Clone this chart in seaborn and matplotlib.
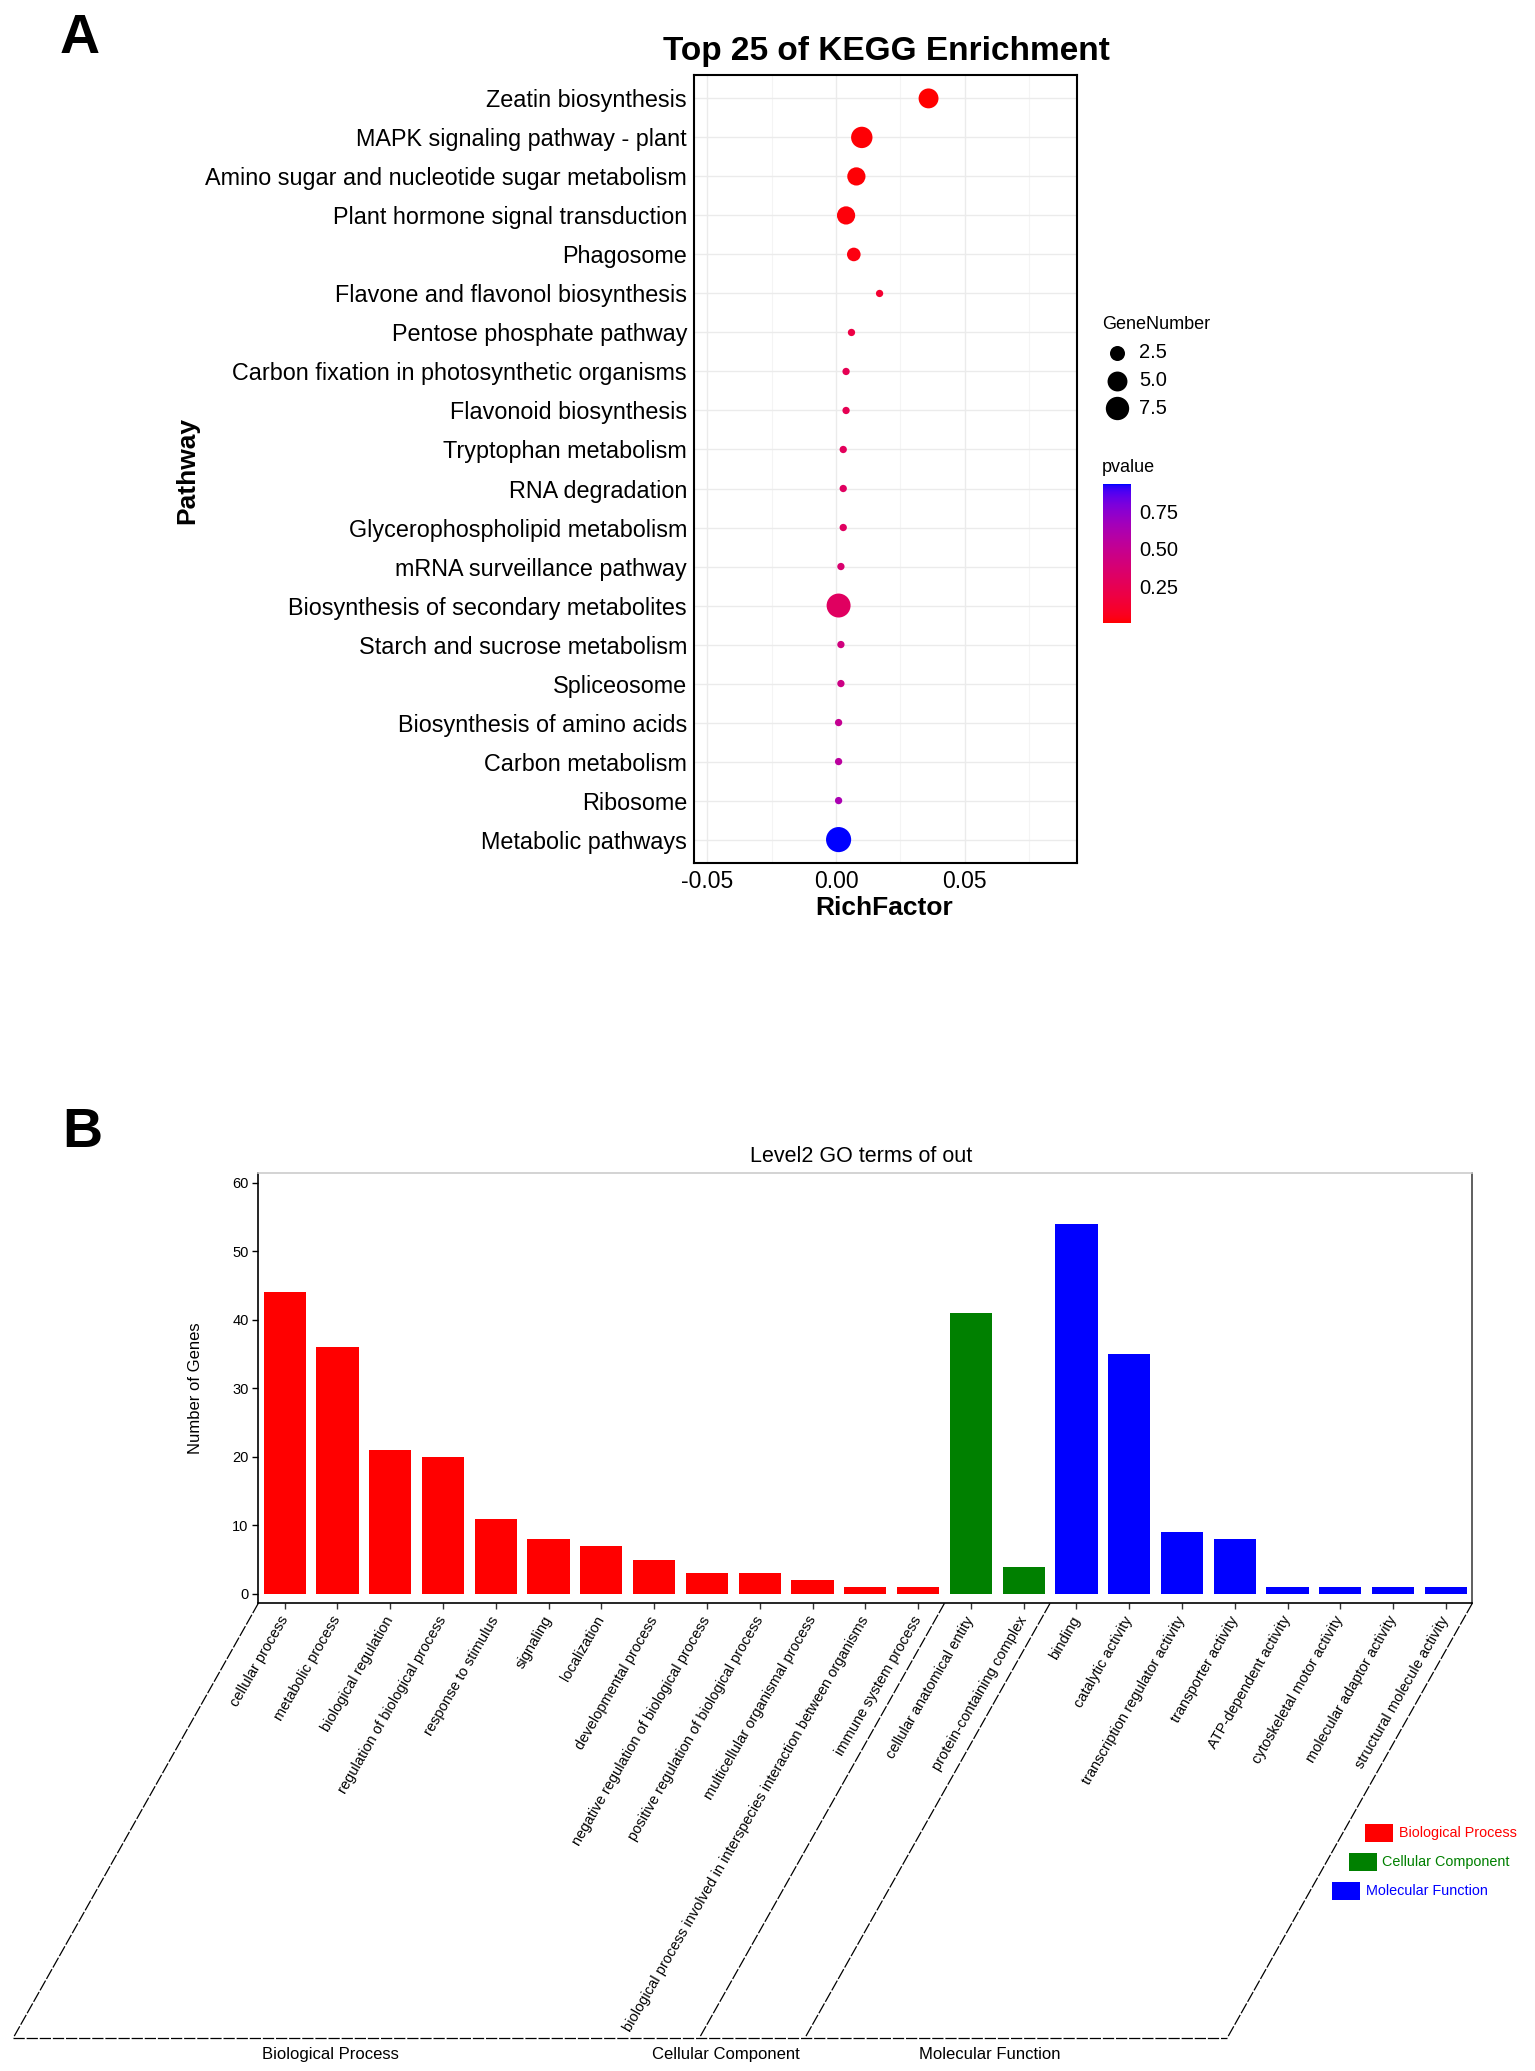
import numpy as np
import pandas as pd
import matplotlib
matplotlib.use("Agg")
import matplotlib.pyplot as plt
import seaborn as sns
from matplotlib import cm
from matplotlib.colors import ListedColormap, Normalize
from matplotlib.lines import Line2D
from matplotlib.patches import Rectangle
from matplotlib.transforms import IdentityTransform

# ---- panel A data (KEGG enrichment) ----
pathways = [
    "Zeatin biosynthesis",
    "MAPK signaling pathway - plant",
    "Amino sugar and nucleotide sugar metabolism",
    "Plant hormone signal transduction",
    "Phagosome",
    "Flavone and flavonol biosynthesis",
    "Pentose phosphate pathway",
    "Carbon fixation in photosynthetic organisms",
    "Flavonoid biosynthesis",
    "Tryptophan metabolism",
    "RNA degradation",
    "Glycerophospholipid metabolism",
    "mRNA surveillance pathway",
    "Biosynthesis of secondary metabolites",
    "Starch and sucrose metabolism",
    "Spliceosome",
    "Biosynthesis of amino acids",
    "Carbon metabolism",
    "Ribosome",
    "Metabolic pathways",
]
rich_factor = [0.0359, 0.0100, 0.0079, 0.0039, 0.0069, 0.0169, 0.0060, 0.0039, 0.0039, 0.0028,
               0.0028, 0.0028, 0.0019, 0.0010, 0.0019, 0.0019, 0.0010, 0.0010, 0.0010, 0.0010]
gene_number = [5, 6, 4, 4, 2, 1, 1, 1, 1, 1, 1, 1, 1, 8, 1, 1, 1, 1, 1, 9]
pvalue = [0.002, 0.01, 0.01, 0.02, 0.03, 0.12, 0.19, 0.25, 0.25, 0.28,
          0.30, 0.30, 0.36, 0.30, 0.42, 0.45, 0.50, 0.55, 0.63, 0.93]
size_breaks = [2.5, 5.0, 7.5]
pvalue_breaks = [0.25, 0.50, 0.75]

# ---- panel B data (GO level 2) ----
go_terms = [
    "cellular process", "metabolic process", "biological regulation",
    "regulation of biological process", "response to stimulus", "signaling",
    "localization", "developmental process", "negative regulation of biological process",
    "positive regulation of biological process", "multicellular organismal process",
    "biological process involved in interspecies interaction between organisms",
    "immune system process",
    "cellular anatomical entity", "protein-containing complex",
    "binding", "catalytic activity", "transcription regulator activity",
    "transporter activity", "ATP-dependent activity", "cytoskeletal motor activity",
    "molecular adaptor activity", "structural molecule activity",
]
go_counts = [44, 36, 21, 20, 11, 8, 7, 5, 3, 3, 2, 1, 1,
             41, 4,
             54, 35, 9, 8, 1, 1, 1, 1]
go_classes = ["Biological Process", "Cellular Component", "Molecular Function"]
go_class_sizes = [13, 2, 8]
class_colors = {"Biological Process": "#FF0000",
                "Cellular Component": "#008000",
                "Molecular Function": "#0000FF"}

kegg = pd.DataFrame({"Pathway": pathways, "RichFactor": rich_factor,
                     "GeneNumber": gene_number, "pvalue": pvalue})
go = pd.DataFrame({"term": go_terms, "count": go_counts,
                   "class": np.repeat(go_classes, go_class_sizes)})

sns.set_style("white")
plt.rcParams["font.family"] = ["Liberation Sans", "DejaVu Sans"]
plt.rcParams["text.color"] = "black"
plt.rcParams["axes.labelcolor"] = "black"
plt.rcParams["xtick.color"] = "black"
plt.rcParams["ytick.color"] = "black"

W, H = 1535, 2071
fig = plt.figure(figsize=(W / 100, H / 100), dpi=100)


def px_box(l, t, r, b):
    return [l / W, 1 - b / H, (r - l) / W, (b - t) / H]


def ftext(x, y, s, **kw):
    fig.text(x / W, 1 - y / H, s, **kw)


# red -> blue gradient interpolated in Lab like ggplot2
def lab_to_srgb(lab):
    L, a, b = lab[:, 0], lab[:, 1], lab[:, 2]
    fy = (L + 16) / 116
    fx = fy + a / 500
    fz = fy - b / 200
    finv = lambda t: np.where(t > 6 / 29, t ** 3, 3 * (6 / 29) ** 2 * (t - 4 / 29))
    X, Y, Z = 0.95047 * finv(fx), finv(fy), 1.08883 * finv(fz)
    rgb = np.stack([3.2406 * X - 1.5372 * Y - 0.4986 * Z,
                    -0.9689 * X + 1.8758 * Y + 0.0415 * Z,
                    0.0557 * X - 0.2040 * Y + 1.0570 * Z], axis=1)
    rgb = np.clip(rgb, 0, 1)
    return np.where(rgb <= 0.0031308, 12.92 * rgb, 1.055 * rgb ** (1 / 2.4) - 0.055)


t = np.linspace(0, 1, 256)[:, None]
lab = (1 - t) * np.array([53.24, 80.09, 67.20]) + t * np.array([32.30, 79.19, -107.86])
cmap = ListedColormap(lab_to_srgb(lab))
norm = Normalize(min(pvalue), max(pvalue))


def dot_area(v):
    d_px = 7.3 + 6.3 * np.sqrt(np.asarray(v, float) - 1)
    return float((d_px * 0.72) ** 2)


size_map = {v: dot_area(v) for v in sorted(set(gene_number))}

# ================= panel A =================
axA = fig.add_axes(px_box(694, 75, 1077, 863))
sns.scatterplot(data=kegg, x="RichFactor", y="Pathway", hue="pvalue", size="GeneNumber",
                sizes=size_map, palette=cmap, hue_norm=norm, linewidth=0,
                legend=False, ax=axA, zorder=3)
axA.set_xlim(-0.0551, 0.0935)
axA.set_ylim(len(pathways) - 0.4, -0.6)
axA.set_yticks(range(len(pathways)))
axA.set_yticklabels(pathways, fontsize=16.8)
axA.set_xticks([-0.05, 0.0, 0.05])
axA.set_xticklabels(["-0.05", "0.00", "0.05"], fontsize=16.5)
axA.set_xticks([-0.025, 0.025, 0.075], minor=True)
axA.set_xlabel("")
axA.set_ylabel("")
axA.set_axisbelow(True)
axA.grid(which="major", color="#EBEBEB", lw=1)
axA.grid(which="minor", color="#F4F4F4", lw=0.8)
axA.tick_params(which="major", length=3, width=1, color="black", pad=2)
axA.tick_params(which="minor", length=0)
for sp in axA.spines.values():
    sp.set_color("black")
    sp.set_linewidth(1.5)

ftext(886, 60, "Top 25 of KEGG Enrichment", fontsize=24, fontweight="bold", ha="center", va="baseline")
ftext(884, 915, "RichFactor", fontsize=19, fontweight="bold", ha="center", va="baseline")
ftext(187, 470, "Pathway", fontsize=19, fontweight="bold", ha="center", va="center", rotation=90)
ftext(60, 53, "A", fontsize=40, fontweight="bold", ha="left", va="baseline")

# size legend
ftext(1102, 329, "GeneNumber", fontsize=13, ha="left", va="baseline")
legA = fig.add_axes(px_box(1095, 335, 1250, 425))
legA.set_xlim(1095, 1250)
legA.set_ylim(425, 335)
legA.axis("off")
for i, b in enumerate(size_breaks):
    yy = 353 + i * 27.7
    legA.scatter([1116.7], [yy], s=dot_area(b), color="black", linewidths=0)
    legA.text(1139, yy, f"{b:.1f}", fontsize=14.5, ha="left", va="center")

# colour bar
ftext(1102, 472, "pvalue", fontsize=13, ha="left", va="baseline")
cax = fig.add_axes(px_box(1102.7, 484.3, 1130.7, 623.3))
cb = fig.colorbar(cm.ScalarMappable(norm=norm, cmap=cmap), cax=cax, ticks=pvalue_breaks)
cb.outline.set_visible(False)
cax.set_yticklabels([f"{v:.2f}" for v in pvalue_breaks])
cax.tick_params(direction="in", length=5, width=1, color="white", labelcolor="black",
                left=True, right=True, labelsize=14.5, pad=6)

# ================= panel B =================
axB = fig.add_axes(px_box(258.3, 1173, 1472.3, 1603.3))
sns.barplot(data=go, x="term", y="count", hue="class", palette=class_colors, dodge=False,
            width=0.8, saturation=1, linewidth=0, legend=False, ax=axB)
axB.set_xlim(-0.5, len(go_terms) - 0.5)
axB.set_ylim(-1.36, 61.4)
axB.set_yticks(range(0, 61, 10))
axB.set_xticks(range(len(go_terms)))
axB.set_xticklabels(go_terms, rotation=60, ha="right", va="center",
                    rotation_mode="anchor", fontsize=10.5)
axB.tick_params(axis="y", length=4, width=1, labelsize=10.5, pad=3, color="black", left=True)
axB.tick_params(axis="x", length=4, width=1, pad=6, color="#333333", bottom=True)
axB.set_xlabel("")
axB.set_ylabel("")
axB.spines["left"].set_color("black")
axB.spines["bottom"].set_color("black")
axB.spines["right"].set_color("#444444")
axB.spines["top"].set_color("#CCCCCC")
for sp in axB.spines.values():
    sp.set_linewidth(1.2)

ftext(861, 1162, "Level2 GO terms of out", fontsize=15.5, ha="center", va="baseline")
ftext(195, 1388, "Number of Genes", fontsize=12, ha="center", va="center", rotation=90)
ftext(62, 1147, "B", fontsize=40, fontweight="bold", ha="left", va="baseline")

# slanted group frame below the bars
fig.canvas.draw()
drop_y, drop_x = 434.5, 245.0
bounds = np.concatenate([[-0.5], np.cumsum(go_class_sizes) - 0.5])
tops = axB.transData.transform(np.column_stack([bounds, np.full(len(bounds), axB.get_ylim()[0])]))
ends = tops + np.array([-drop_x, -drop_y])
dash = (0, (9, 1.5))
for (x0, y0), (x1, y1) in zip(tops, ends):
    fig.add_artist(Line2D([x0, x1], [y0, y1], transform=IdentityTransform(),
                          color="black", lw=0.9, linestyle=dash))
fig.add_artist(Line2D([ends[0, 0], ends[-1, 0]], [ends[0, 1], ends[-1, 1]],
                      transform=IdentityTransform(), color="black", lw=0.9, linestyle=dash))
for i, name in enumerate(go_classes):
    cx = (ends[i, 0] + ends[i + 1, 0]) / 2 - 26
    fig.text(cx, ends[i, 1] - 21, name, fontsize=12, ha="center", va="baseline",
             transform=IdentityTransform())

# staggered legend following the slant
step_x, step_y = 16.5, 29
for i, name in enumerate(go_classes):
    left = 1365 - i * step_x
    top = 1824 + i * step_y
    fig.add_artist(Rectangle((left, H - top - 18), 28, 18, transform=IdentityTransform(),
                             facecolor=class_colors[name], edgecolor="none"))
    fig.text(left + 34, H - top - 9, name, fontsize=10.4, color=class_colors[name],
             ha="left", va="center", transform=IdentityTransform())

fig.savefig("out.png", dpi=100)
